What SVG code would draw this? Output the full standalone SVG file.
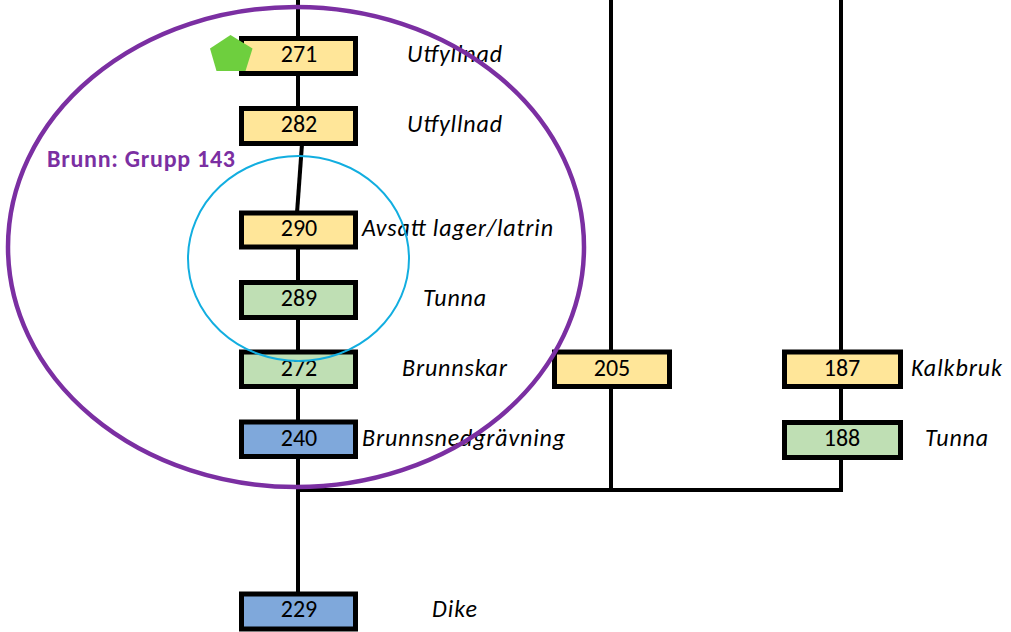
<svg xmlns="http://www.w3.org/2000/svg" width="1011" height="632" viewBox="0 0 1011 632">
<style>
.box{stroke:#000;stroke-width:5}
.y{fill:#FFE699}.g{fill:#BFDFB4}.b{fill:#7FA8DB}
.num{font-family:Carlito,"Liberation Sans",sans-serif;font-size:24px;text-anchor:middle;fill:#000}
.lab{font-family:Carlito,"Liberation Sans",sans-serif;font-size:24px;font-style:italic;fill:#000}
.con{stroke:#000;stroke-width:4;fill:none}
</style>
<rect width="1011" height="632" fill="#fff"/>
<g id="connectors">
<line class="con" x1="298" y1="0" x2="298" y2="38"/>
<line class="con" x1="298" y1="74" x2="298" y2="108"/>
<line class="con" x1="302" y1="144" x2="297" y2="213"/>
<line class="con" x1="298" y1="247" x2="298" y2="282"/>
<line class="con" x1="298" y1="318" x2="298" y2="352"/>
<line class="con" x1="298" y1="387" x2="298" y2="422"/>
<line class="con" x1="298" y1="457" x2="298" y2="594"/>
<line class="con" x1="611" y1="0" x2="611" y2="352"/>
<line class="con" x1="611" y1="387" x2="611" y2="490"/>
<line class="con" x1="841" y1="0" x2="841" y2="352"/>
<line class="con" x1="841" y1="387" x2="841" y2="422"/>
<line class="con" x1="841" y1="458" x2="841" y2="492"/>
<line class="con" x1="296" y1="490" x2="843" y2="490"/>
</g>
<g id="n271"><rect class="box y" x="241.5" y="38.5" width="114" height="35"/><text class="num" x="299" y="62">271</text><text class="lab" x="407" y="62" textLength="95">Utfyllnad</text></g>
<g id="n282"><rect class="box y" x="241.5" y="108.5" width="114" height="35"/><text class="num" x="299" y="132">282</text><text class="lab" x="407" y="132" textLength="95">Utfyllnad</text></g>
<g id="n290"><rect class="box y" x="241.5" y="213" width="114" height="34"/><text class="num" x="299" y="236">290</text><text class="lab" x="362" y="236" textLength="191">Avsatt lager/latrin</text></g>
<g id="n289"><rect class="box g" x="241.5" y="282.5" width="114" height="35"/><text class="num" x="299" y="306">289</text><text class="lab" x="423" y="306" textLength="63">Tunna</text></g>
<g id="n272"><rect class="box g" x="241.5" y="352" width="114" height="34.5"/><text class="num" x="299" y="376">272</text><text class="lab" x="402" y="376" textLength="105">Brunnskar</text></g>
<g id="n240"><rect class="box b" x="241.5" y="422" width="114" height="34.5"/><text class="num" x="299" y="446">240</text><text class="lab" x="362" y="446" textLength="203">Brunnsnedgrävning</text></g>
<g id="n229"><rect class="box b" x="241.5" y="594" width="114" height="35"/><text class="num" x="299" y="617">229</text><text class="lab" x="432" y="617" textLength="45">Dike</text></g>
<g id="n205"><rect class="box y" x="554.5" y="352" width="115" height="34.5"/><text class="num" x="612" y="376">205</text></g>
<g id="n187"><rect class="box y" x="784.5" y="352" width="116" height="34.5"/><text class="num" x="842" y="376">187</text><text class="lab" x="911" y="376" textLength="91">Kalkbruk</text></g>
<g id="n188"><rect class="box g" x="784.5" y="422.5" width="116" height="35"/><text class="num" x="842" y="446">188</text><text class="lab" x="925" y="446" textLength="63">Tunna</text></g>
<g id="groups">
<ellipse cx="296" cy="247" rx="288" ry="240" fill="none" stroke="#7B2FA2" stroke-width="4.5"/>
<ellipse cx="298.5" cy="258.5" rx="110.5" ry="102.5" fill="none" stroke="#12AEE0" stroke-width="2"/>
<text x="47" y="167" font-family="Carlito,'Liberation Sans',sans-serif" font-size="24" font-weight="bold" fill="#7B2FA2" textLength="188">Brunn: Grupp 143</text>
<polygon points="230.5,35 252.5,48.5 245.5,71 216.5,71 210,48.5" fill="#6ECF3E"/>
</g>
</svg>
